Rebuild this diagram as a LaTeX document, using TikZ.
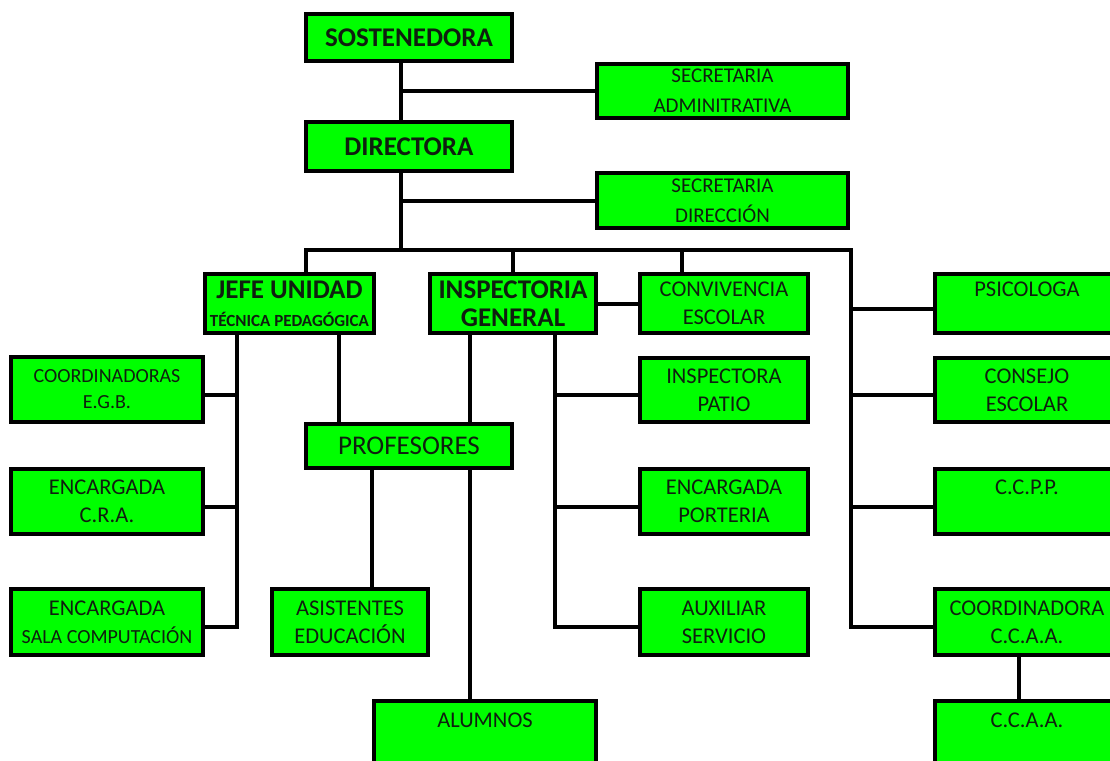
\documentclass[tikz,border=0pt]{standalone}
\usepackage{fontspec}
\setmainfont{Carlito}
\usepackage{xcolor}
\usetikzlibrary{positioning,calc}
\definecolor{cG}{HTML}{00FF00}
\definecolor{cT}{HTML}{0F1F0F}

\begin{document}
\begin{tikzpicture}[x=0.5pt,y=-0.5pt,
  box/.style={draw=black,fill=cG,line width=2pt,inner sep=2pt,align=center,text=cT,
    font=\fontsize{11.25}{14}\selectfont},
  big/.style={font=\bfseries\fontsize{13.5}{14}\selectfont},
  small/.style={font=\fontsize{10}{13}\selectfont},
  link/.style={line width=2pt}]
  \path[use as bounding box,fill=white] (0,0) rectangle (1110,761);
  % trunk and branch positions
  \coordinate (sp) at (401,0);  \coordinate (bus) at (0,250);
  \coordinate (xj) at (306,0);  \coordinate (xr) at (851,0);
  \coordinate (xc) at (682,0);  \coordinate (xl) at (237,0);
  \coordinate (xp) at (339,0);  \coordinate (xi) at (470,0);
  \coordinate (xa) at (372,0);  \coordinate (xs) at (555,0);
  \coordinate (xk) at (1019,0);
  % top
  \node[box,big,minimum width=103pt,minimum height=23.5pt] (sost) at (409,37.5){SOSTENEDORA};
  \node[box,big,minimum width=103pt,minimum height=24.5pt] (dir) at (409,146.5){DIRECTORA};
  \node[box,font=\fontsize{10.5}{15}\selectfont,minimum width=125.5pt,minimum height=27pt] (secadm) at (722.5,91){SECRETARIA\\ADMINITRATIVA};
  \node[box,font=\fontsize{10.5}{15}\selectfont,minimum width=125.5pt,minimum height=27.5pt] (secdir) at (722.5,200.5){SECRETARIA\\DIRECCIÓN};
  % second level
  \node[box,big,minimum width=84.5pt,minimum height=29.5pt] (jefe) at (289.5,303.5){JEFE UNIDAD\\{\fontsize{8.5}{10}\selectfont TÉCNICA PEDAGÓGICA}};
  \node[box,big,minimum width=83pt,minimum height=29.5pt] (insp) at (513,303.5){INSPECTORIA\\GENERAL};
  \node[box,minimum width=84pt,minimum height=29.5pt] (conv) at (724,303.5){CONVIVENCIA\\ESCOLAR};
  % left column
  \node[box,small,minimum width=96pt,minimum height=32.5pt] (egb) at (107,389.5){COORDINADORAS\\E.G.B.};
  \node[box,minimum width=96pt,minimum height=32.5pt] (cra) at (107,501.5){ENCARGADA\\C.R.A.};
  \node[box,minimum width=96pt,minimum height=33pt] (sala) at (107,622){ENCARGADA\\{\fontsize{10}{11}\selectfont SALA COMPUTACIÓN}};
  % middle
  \node[box,font=\fontsize{13.5}{14}\selectfont,minimum width=103pt,minimum height=22pt] (prof) at (409,446){PROFESORES};
  \node[box,minimum width=78pt,minimum height=33pt] (asis) at (350,622){ASISTENTES\\EDUCACIÓN};
  \node[box,minimum width=111pt,minimum height=33pt] (alum) at (485,734){ALUMNOS\\\phantom{A}};
  % inspectoria column
  \node[box,minimum width=84pt,minimum height=32pt] (patio) at (724,390){INSPECTORA\\PATIO};
  \node[box,minimum width=84pt,minimum height=32.5pt] (port) at (724,501.5){ENCARGADA\\PORTERIA};
  \node[box,minimum width=84pt,minimum height=33pt] (aux) at (724,622){AUXILIAR\\SERVICIO};
  % right column
  \node[box,minimum width=92pt,minimum height=29.5pt] (psi) at (1027,303.5){PSICOLOGA\\\phantom{A}};
  \node[box,minimum width=92pt,minimum height=32pt] (cons) at (1027,390){CONSEJO\\ESCOLAR};
  \node[box,minimum width=92pt,minimum height=32.5pt] (ccpp) at (1027,501.5){C.C.P.P.\\\phantom{A}};
  \node[box,minimum width=92pt,minimum height=33pt] (cord) at (1027,622){COORDINADORA\\C.C.A.A.};
  \node[box,minimum width=92pt,minimum height=33pt] (ccaa) at (1027,734){C.C.A.A.\\\phantom{A}};
  % connectors
  \draw[link] (sost.south -| sp) -- (dir.north -| sp);
  \draw[link] (dir.south -| sp) -- (sp |- bus);
  \draw[link] (secadm.west) -- (secadm.west -| sp);
  \draw[link] (secdir.west) -- (secdir.west -| sp);
  \draw[link] (jefe.north -| xj) |- (bus -| xr) |- ([yshift=-2.5pt]cord.west);
  \draw[link] (insp.north) -- (insp.north |- bus);
  \draw[link] (conv.north -| xc) -- (xc |- bus);
  \draw[link] (insp.east) -- (conv.west);
  \foreach \n in {psi,cons,ccpp}
    \draw[link] ([yshift=-2.5pt]\n.west) -- ([yshift=-2.5pt]\n.west -| xr);
  \draw[link] (jefe.south -| xl) |- ([yshift=-2.5pt]sala.east);
  \foreach \n in {egb,cra}
    \draw[link] ([yshift=-2.5pt]\n.east) -- ([yshift=-2.5pt]\n.east -| xl);
  \draw[link] (jefe.south -| xp) -- (prof.north -| xp);
  \draw[link] (insp.south -| xi) -- (prof.north -| xi);
  \draw[link] (prof.south -| xi) -- (alum.north -| xi);
  \draw[link] (prof.south -| xa) -- (asis.north -| xa);
  \draw[link] (insp.south -| xs) |- ([yshift=-2.5pt]aux.west);
  \foreach \n in {patio,port}
    \draw[link] ([yshift=-2.5pt]\n.west) -- ([yshift=-2.5pt]\n.west -| xs);
  \draw[link] (cord.south -| xk) -- (ccaa.north -| xk);
\end{tikzpicture}
\end{document}
